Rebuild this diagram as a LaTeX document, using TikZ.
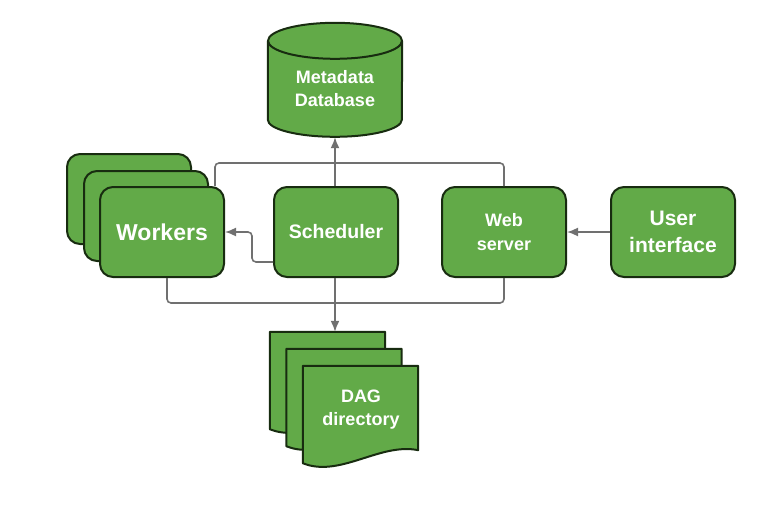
\documentclass[tikz,border=0pt]{standalone}
\usepackage{fontspec}
\setmainfont{Liberation Sans}
\usetikzlibrary{arrows.meta}
\definecolor{boxgreen}{RGB}{98,170,72}
\definecolor{boxedge}{RGB}{24,44,16}
\definecolor{wire}{RGB}{112,112,112}
\tikzstyle{box} = [draw=boxedge, line width=2pt, fill=boxgreen, rounded corners=13pt,
	minimum width=124pt, minimum height=90pt, text=white, align=center,
	font=\bfseries\fontsize{18}{24}\selectfont]
\tikzstyle{bigbox} = [box, font=\bfseries\fontsize{21}{27}\selectfont]
\tikzstyle{shapeline} = [draw=boxedge, line width=2pt, fill=boxgreen, line join=round]
\tikzstyle{label} = [text=white, align=center, font=\bfseries\fontsize{18}{23}\selectfont]
\tikzstyle{dagsheet} = [minimum width=115pt, minimum height=97pt, inner sep=0pt]
\tikzstyle{bus} = [draw=wire, line width=1.6pt, rounded corners=4pt]
\tikzstyle{arrow} = [bus, -{Latex[length=11pt,width=9pt]}]

% one sheet of the DAG stack: name, centre
\newcommand{\dagpage}[2]{%
	\node[dagsheet] (#1) at (#2) {};
	\draw[shapeline] (#1.south west) -- (#1.north west) -- (#1.north east)
		-- ([shift={(0,-13)}]#1.south east)
		.. controls ([shift={(-38,-21)}]#1.south east) and ([shift={(37,15)}]#1.south west) .. cycle;
}

\begin{document}
\begin{tikzpicture}[x=1pt, y=-1pt]
	\useasboundingbox (0,0) rectangle (781,506);

	% metadata database
	\node[minimum width=134pt, minimum height=96pt, inner sep=0pt] (dbbody) at (335,89) {};
	\draw[shapeline] (dbbody.north west) -- ([shift={(0,79)}]dbbody.north west)
		arc[start angle=180, end angle=0, x radius=67, y radius=17] -- (dbbody.north east);
	\draw[shapeline] (dbbody.north) ellipse[x radius=67, y radius=18];
	\node[label] (db) at (dbbody.center) {Metadata\\Database};

	% workers (stacked)
	\node[bigbox] (w3) at (129,199) {};
	\node[bigbox] (w2) at (146,216) {};
	\node[bigbox, font=\bfseries\fontsize{23}{27}\selectfont] (w) at (162,232) {Workers};

	\node[box, font=\bfseries\fontsize{19.5}{24}\selectfont] (sched) at (336,232) {Scheduler};
	\node[box] (web) at (504,232) {Web\\server};
	\node[bigbox] (ui) at (673,232) {User\\interface};

	% DAG directory (stacked)
	\dagpage{dag3}{327.5,380.5}
	\dagpage{dag2}{344,397.5}
	\dagpage{dag1}{360.5,414.5}
	\node[label] (dag) at (361,410) {DAG\\directory};

	% connectors
	\coordinate (topl) at (215,163);
	\coordinate (botl) at (167,303);
	\coordinate (kink) at (252,262);
	\draw[bus] (topl |- w.north) -- (topl) -- (web.north |- topl) -- (web.north);
	\draw[bus] (botl |- w.south) -- (botl) -- (web.south |- botl) -- (web.south);
	\draw[arrow] (sched.north -| dbbody.south) -- (dbbody.south);
	\draw[arrow] (sched.south -| dbbody.south) -- (dbbody.south |- dag3.north);
	\draw[arrow] (sched.west |- kink) -- (kink) -- (kink |- w.east) -- (w.east);
	\draw[arrow] (ui.west) -- (web.east);
\end{tikzpicture}
\end{document}
